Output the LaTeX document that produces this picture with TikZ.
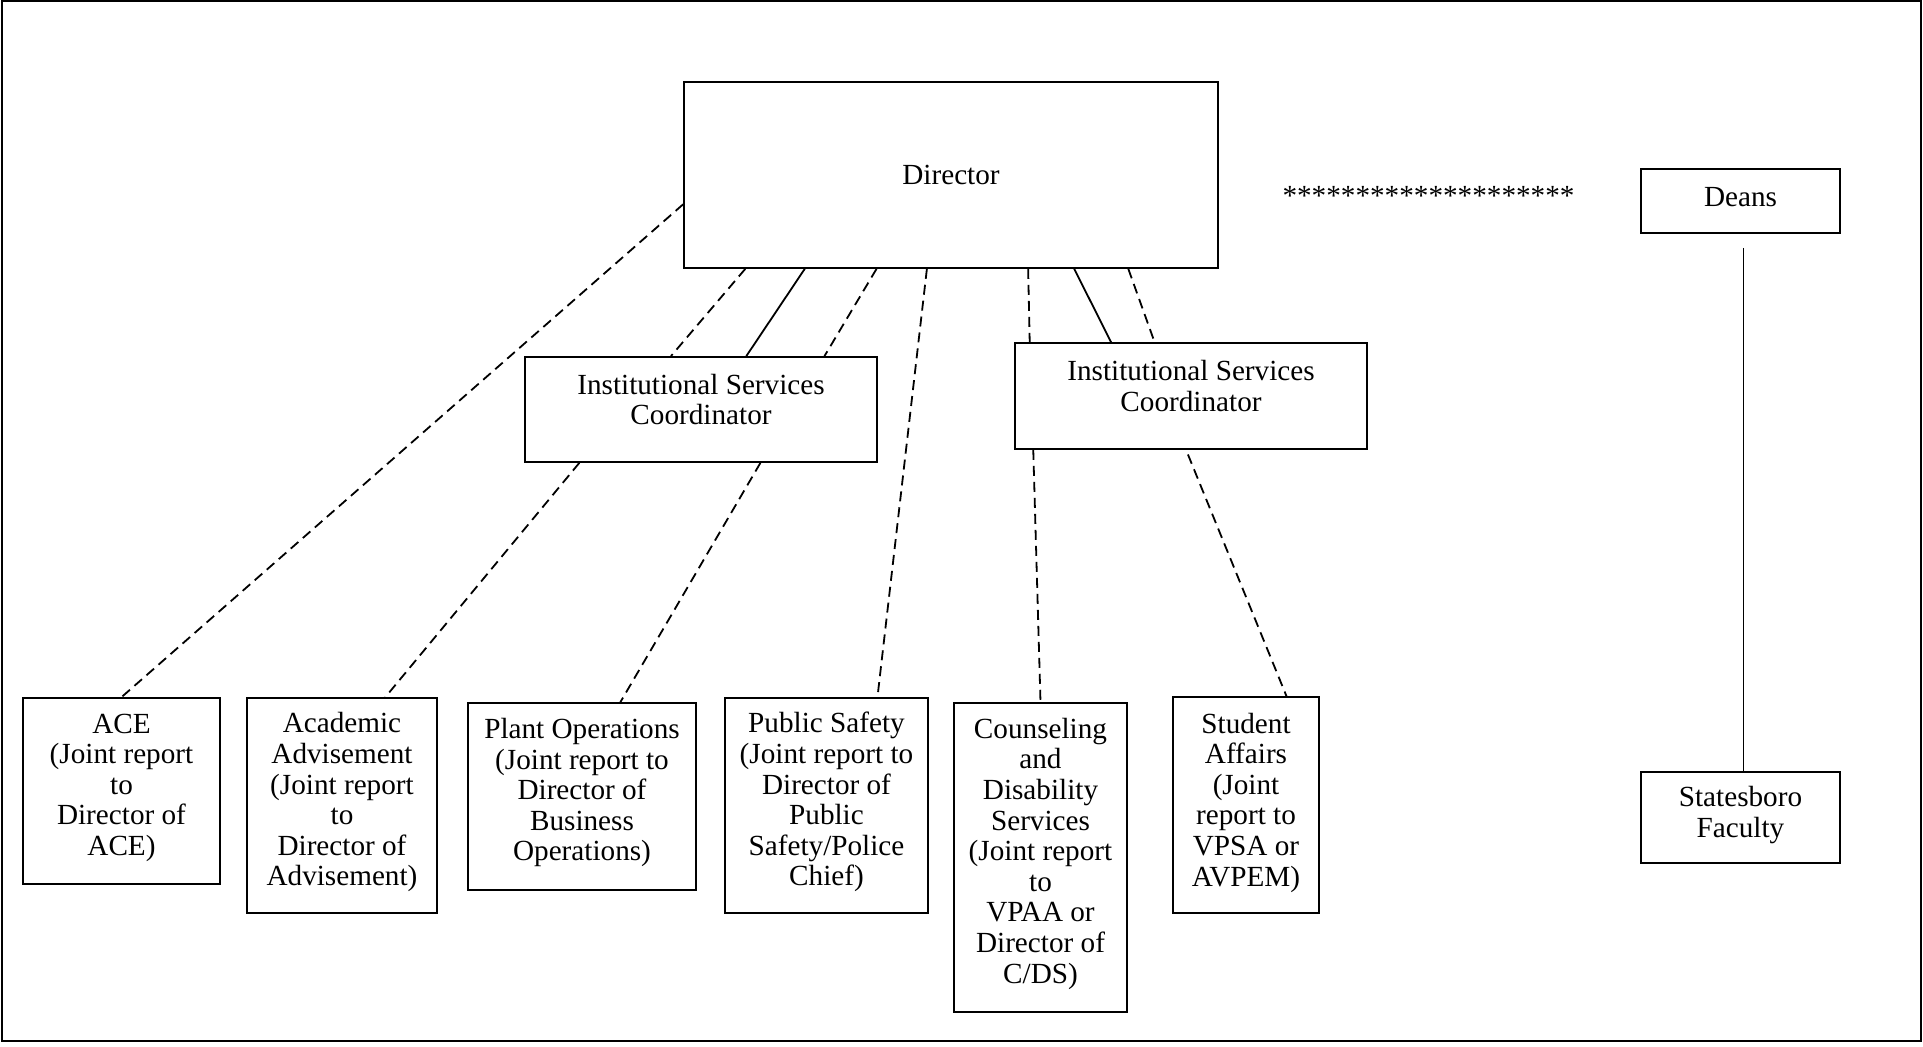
\documentclass[tikz,border=0pt]{standalone}
\usepackage{fontspec}
\setmainfont{Liberation Serif}
\usepackage{tikz}
\usetikzlibrary{positioning, calc}

\tikzset{
    orgtext/.style={font=\fontsize{14.6pt}{15.3pt}\selectfont},
    orgbox/.style={draw, line width=0.85pt, inner sep=0pt, align=center, text depth=6.3pt, orgtext},
    dashlink/.style={line width=0.9pt, dash pattern=on 5pt off 3pt},
    solidlink/.style={line width=0.9pt}
}

\begin{document}
\begin{tikzpicture}[x=0.5pt, y=-0.5pt]
    \useasboundingbox (0,0) rectangle (1923,1046);

    % Outer frame
    \draw[line width=1pt] (2,1) rectangle (1921,1041);

    % Top level: Director, Deans and the two coordinators
    \node[orgbox, minimum width=267pt, minimum height=93pt, text depth=0pt] (Director) at (951,175) {Director};
    \node[orgtext, anchor=base, inner sep=0pt] (Stars) at (1428.5,205) {********************};
    \node[orgbox, minimum width=99.5pt, minimum height=32pt, text depth=3.7pt] (Deans) at (1740.5,201) {Deans};
    \node[orgbox, minimum width=176pt, minimum height=52.5pt, text depth=10pt] (ISCLeft) at (701,409.5) {Institutional Services\\Coordinator};
    \node[orgbox, minimum width=176pt, minimum height=53pt, text depth=10pt] (ISCRight) at (1191,396) {Institutional Services\\Coordinator};

    % Bottom row of units
    \node[orgbox, minimum width=98.5pt, minimum height=93pt] (ACE) at (121.5,791) {ACE\\(Joint report\\to\\Director of\\ACE)};
    \node[orgbox, minimum width=95pt, minimum height=107.5pt] (Advise) at (342,805.5) {Academic\\Advisement\\(Joint report\\to\\Director of\\Advisement)};
    \node[orgbox, minimum width=114pt, minimum height=93.5pt, text depth=6.9pt] (Plant) at (582,796.5) {Plant Operations\\(Joint report to\\Director of\\Business\\Operations)};
    \node[orgbox, minimum width=101.5pt, minimum height=107.5pt] (Safety) at (826.5,805.5) {Public Safety\\(Joint report to\\Director of\\Public\\Safety/Police\\Chief)};
    \node[orgbox, minimum width=86.5pt, minimum height=154.5pt, text depth=6.9pt] (Counsel) at (1040.5,857.5) {Counseling\\and\\Disability\\Services\\(Joint report\\to\\VPAA or\\Director of\\C/DS)};
    \node[orgbox, minimum width=73pt, minimum height=108pt, text depth=5.6pt] (Student) at (1246,805) {Student\\Affairs\\(Joint\\report to\\VPSA or\\AVPEM)};
    \node[orgbox, minimum width=99.5pt, minimum height=45.5pt, text depth=5.6pt] (Faculty) at (1740.5,817.5) {Statesboro\\Faculty};

    % Director down to the coordinators
    \foreach \f/\t/\s in {0.116/0.415/dashlink, 0.227/0.628/solidlink, 0.361/0.849/dashlink}
        \draw[\s] ($(Director.south west)!\f!(Director.south east)$) -- ($(ISCLeft.north west)!\t!(ISCLeft.north east)$);
    \foreach \f/\t/\s in {0.644/0.044/dashlink, 0.730/0.274/solidlink, 0.831/0.397/dashlink}
        \draw[\s] ($(Director.south west)!\f!(Director.south east)$) -- ($(ISCRight.north west)!\t!(ISCRight.north east)$);

    % Director straight to units
    \draw[dashlink] ($(Director.north west)!0.656!(Director.south west)$) -- (ACE.north);
    \draw[dashlink] ($(Director.south west)!0.455!(Director.south east)$) -- ($(Safety.north west)!0.749!(Safety.north east)$);

    % Coordinators to units
    \draw[dashlink] ($(ISCLeft.south west)!0.156!(ISCLeft.south east)$) -- ($(Advise.north west)!0.726!(Advise.north east)$);
    \draw[dashlink] ($(ISCLeft.south west)!0.668!(ISCLeft.south east)$) -- ($(Plant.north west)!0.667!(Plant.north east)$);
    \draw[dashlink] ($(ISCRight.south west)!0.054!(ISCRight.south east)$) -- (Counsel.north);
    \draw[dashlink, shorten <=2.5pt] ($(ISCRight.south west)!0.486!(ISCRight.south east)$) -- ($(Student.north west)!0.774!(Student.north east)$);

    % Deans to faculty
    \draw[solidlink, shorten <=7pt] ($(Deans.south)+(3,0)$) -- ($(Faculty.north)+(3,0)$);
\end{tikzpicture}
\end{document}
